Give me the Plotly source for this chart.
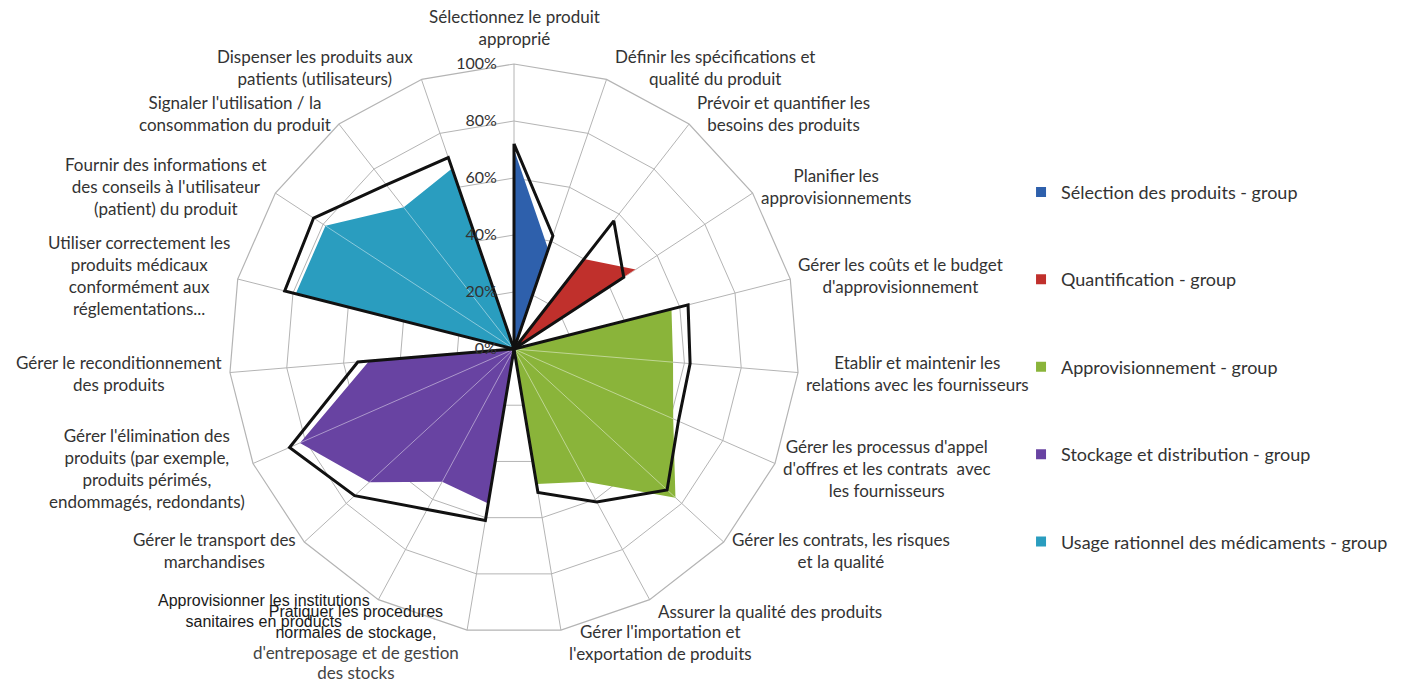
import math
import plotly.graph_objects as go

categories = [
    "Sélectionnez le produit<br>approprié",
    "Définir les spécifications et<br>qualité du produit",
    "Prévoir et quantifier les<br>besoins des produits",
    "Planifier les<br>approvisionnements",
    "Gérer les coûts et le budget<br>d'approvisionnement",
    "Etablir et maintenir les<br>relations avec les fournisseurs",
    "Gérer les processus d'appel<br>d'offres et les contrats  avec<br>les fournisseurs",
    "Gérer les contrats, les risques<br>et la qualité",
    "Assurer la qualité des produits",
    "Gérer l'importation et<br>l'exportation de produits",
    "Pratiquer les procedures<br>normales de stockage,<br>d'entreposage et de gestion<br>des stocks",
    "Approvisionner les institutions<br>sanitaires en products",
    "Gérer le transport des<br>marchandises",
    "Gérer l'élimination des<br>produits (par exemple,<br>produits périmés,<br>endommagés, redondants)",
    "Gérer le reconditionnement<br>des produits",
    "Utiliser correctement les<br>produits médicaux<br>conformément aux<br>réglementations...",
    "Fournir des informations et<br>des conseils à l'utilisateur<br>(patient) du produit",
    "Signaler l'utilisation / la<br>consommation du produit",
    "Dispenser les produits aux<br>patients (utilisateurs)",
]

series_names = [
    "Sélection des produits - group",
    "Quantification - group",
    "Approvisionnement - group",
    "Stockage et distribution - group",
    "Usage rationnel des médicaments - group",
]

# filled "group" series (percent), zero outside each group
selection_group = [70, 37, 0, 0, 0, 0, 0, 0, 0, 0, 0, 0, 0, 0, 0, 0, 0, 0, 0]
quantification_group = [0, 0, 40, 51, 0, 0, 0, 0, 0, 0, 0, 0, 0, 0, 0, 0, 0, 0, 0]
approvisionnement_group = [0, 0, 0, 0, 57, 56, 61, 77, 53, 48, 0, 0, 0, 0, 0, 0, 0, 0, 0]
stockage_group = [0, 0, 0, 0, 0, 0, 0, 0, 0, 0, 55, 53, 69, 82, 51, 0, 0, 0, 0]
usage_group = [0, 0, 0, 0, 0, 0, 0, 0, 0, 0, 0, 0, 0, 0, 0, 79, 79, 63, 67]

# black outline series (percent)
selection_outline = [72, 42, 0, 0, 0, 0, 0, 0, 0, 0, 0, 0, 0, 0, 0, 0, 0, 0, 0]
quantification_outline = [0, 0, 57, 46, 0, 0, 0, 0, 0, 0, 0, 0, 0, 0, 0, 0, 0, 0, 0]
approvisionnement_outline = [0, 0, 0, 0, 63, 62, 63, 73, 61, 51, 0, 0, 0, 0, 0, 0, 0, 0, 0]
stockage_outline = [0, 0, 0, 0, 0, 0, 0, 0, 0, 0, 61, 64, 76, 86, 55, 0, 0, 0, 0]
usage_outline = [0, 0, 0, 0, 0, 0, 0, 0, 0, 0, 0, 0, 0, 0, 0, 83, 84, 73, 71]

radial_ticks = [0, 20, 40, 60, 80, 100]
radial_ticktext = ["0%", "20%", "40%", "60%", "80%", "100%"]

colors = ["#2E60AC", "#C0302C", "#8AB43A", "#6843A2", "#2A9DBF"]

groups = [selection_group, quantification_group, approvisionnement_group,
          stockage_group, usage_group]
outlines = [selection_outline, quantification_outline, approvisionnement_outline,
            stockage_outline, usage_outline]

FONT = "Lato"
ALT_FONT = "Liberation Sans"
W, H = 1413, 684
DOM_X = [229 / W, 799 / W]
DOM_Y = [50 / H, 620 / H]
R_PX = (DOM_X[1] - DOM_X[0]) * W / 2
CX_PX = (DOM_X[0] + DOM_X[1]) / 2 * W
CY_PX = (1 - (DOM_Y[0] + DOM_Y[1]) / 2) * H
GRID = "#B4B4B4"

fig = go.Figure()


def closed(lst):
    return list(lst) + [lst[0]]


# filled group areas
for name, vals, col in zip(series_names, groups, colors):
    fig.add_trace(go.Scatterpolar(
        r=closed(vals), theta=closed(categories), mode="lines",
        fill="toself", fillcolor=col, line=dict(width=0, color=col),
        name=name, showlegend=False, legendgroup=name, hoverinfo="skip",
    ))

# light spokes visible over the filled areas
spoke_r, spoke_t = [], []
for i, c in enumerate(categories):
    top = max(g[i] for g in groups)
    if top > 0:
        spoke_r += [0, top, None]
        spoke_t += [c, c, None]
fig.add_trace(go.Scatterpolar(
    r=spoke_r, theta=spoke_t, mode="lines",
    line=dict(color="rgba(255,255,255,0.45)", width=1),
    showlegend=False, hoverinfo="skip",
))

# black outlines
for vals in outlines:
    fig.add_trace(go.Scatterpolar(
        r=closed(vals), theta=closed(categories), mode="lines",
        line=dict(color="#111111", width=3), showlegend=False, hoverinfo="skip",
    ))

# legend entries
for name, col in zip(series_names, colors):
    fig.add_trace(go.Scatterpolar(
        r=[None], theta=[categories[0]], mode="markers",
        marker=dict(symbol="square", size=10, color=col),
        name=name, legendgroup=name, showlegend=True,
    ))

# category labels: centred text blocks anchored just outside each spoke end
n = len(categories)
annotations = []
GAP = 6
for k, lab in enumerate(categories):
    alt = k in (10, 11)
    text = lab
    if k == 10:
        parts = lab.split("<br>")
        span = '<span style="font-family:Lato;font-size:17px;fill:#444444">'
        text = "<br>".join(parts[:2] + [span + p + "</span>" for p in parts[2:]])
    a = math.radians(k * 360 / n)
    ux, uy = math.sin(a), -math.cos(a)
    vx, vy = CX_PX + R_PX * ux, CY_PX + R_PX * uy
    if abs(ux) < 0.05:
        px, py, xa, ya = vx, vy - 13, "center", "bottom"
    else:
        px = vx + math.copysign(GAP, ux)
        py = vy + uy * 13
        xa = "left" if ux > 0 else "right"
        ya = "middle"
    annotations.append(dict(
        x=px / W, y=1 - py / H, xref="paper", yref="paper",
        xanchor=xa, yanchor=ya, align="center", showarrow=False,
        text=text,
        font=dict(family=ALT_FONT if alt else FONT, size=16 if alt else 17,
                  color="#1A1A1A" if alt else "#333333"),
    ))

fig.update_layout(
    width=W, height=H,
    margin=dict(l=0, r=0, t=0, b=0),
    paper_bgcolor="white",
    font=dict(family=FONT, size=14, color="#333333"),
    showlegend=True,
    annotations=annotations,
    legend=dict(
        x=0.7226, y=0.746, xanchor="left", yanchor="top",
        font=dict(family=FONT, size=18, color="#333333"),
        tracegroupgap=61, itemwidth=30,
        bgcolor="rgba(0,0,0,0)",
    ),
    polar=dict(
        domain=dict(x=DOM_X, y=DOM_Y),
        bgcolor="white",
        gridshape="linear",
        radialaxis=dict(
            range=[0, 100], tickvals=radial_ticks, ticktext=radial_ticktext,
            angle=90, side="counterclockwise", showline=False,
            ticks="outside", ticklen=11, tickcolor="rgba(0,0,0,0)",
            tickangle=90,
            gridcolor=GRID, gridwidth=1.2,
            tickfont=dict(family=FONT, size=16, color="#333333"),
        ),
        angularaxis=dict(
            direction="clockwise", rotation=90,
            showline=True, linecolor=GRID, linewidth=1.2,
            gridcolor=GRID, gridwidth=1.2, ticks="",
            showticklabels=False,
        ),
    ),
)

fig.write_html("out.html", config={"displayModeBar": False},
               post_script="document.body.style.margin='0px';")
